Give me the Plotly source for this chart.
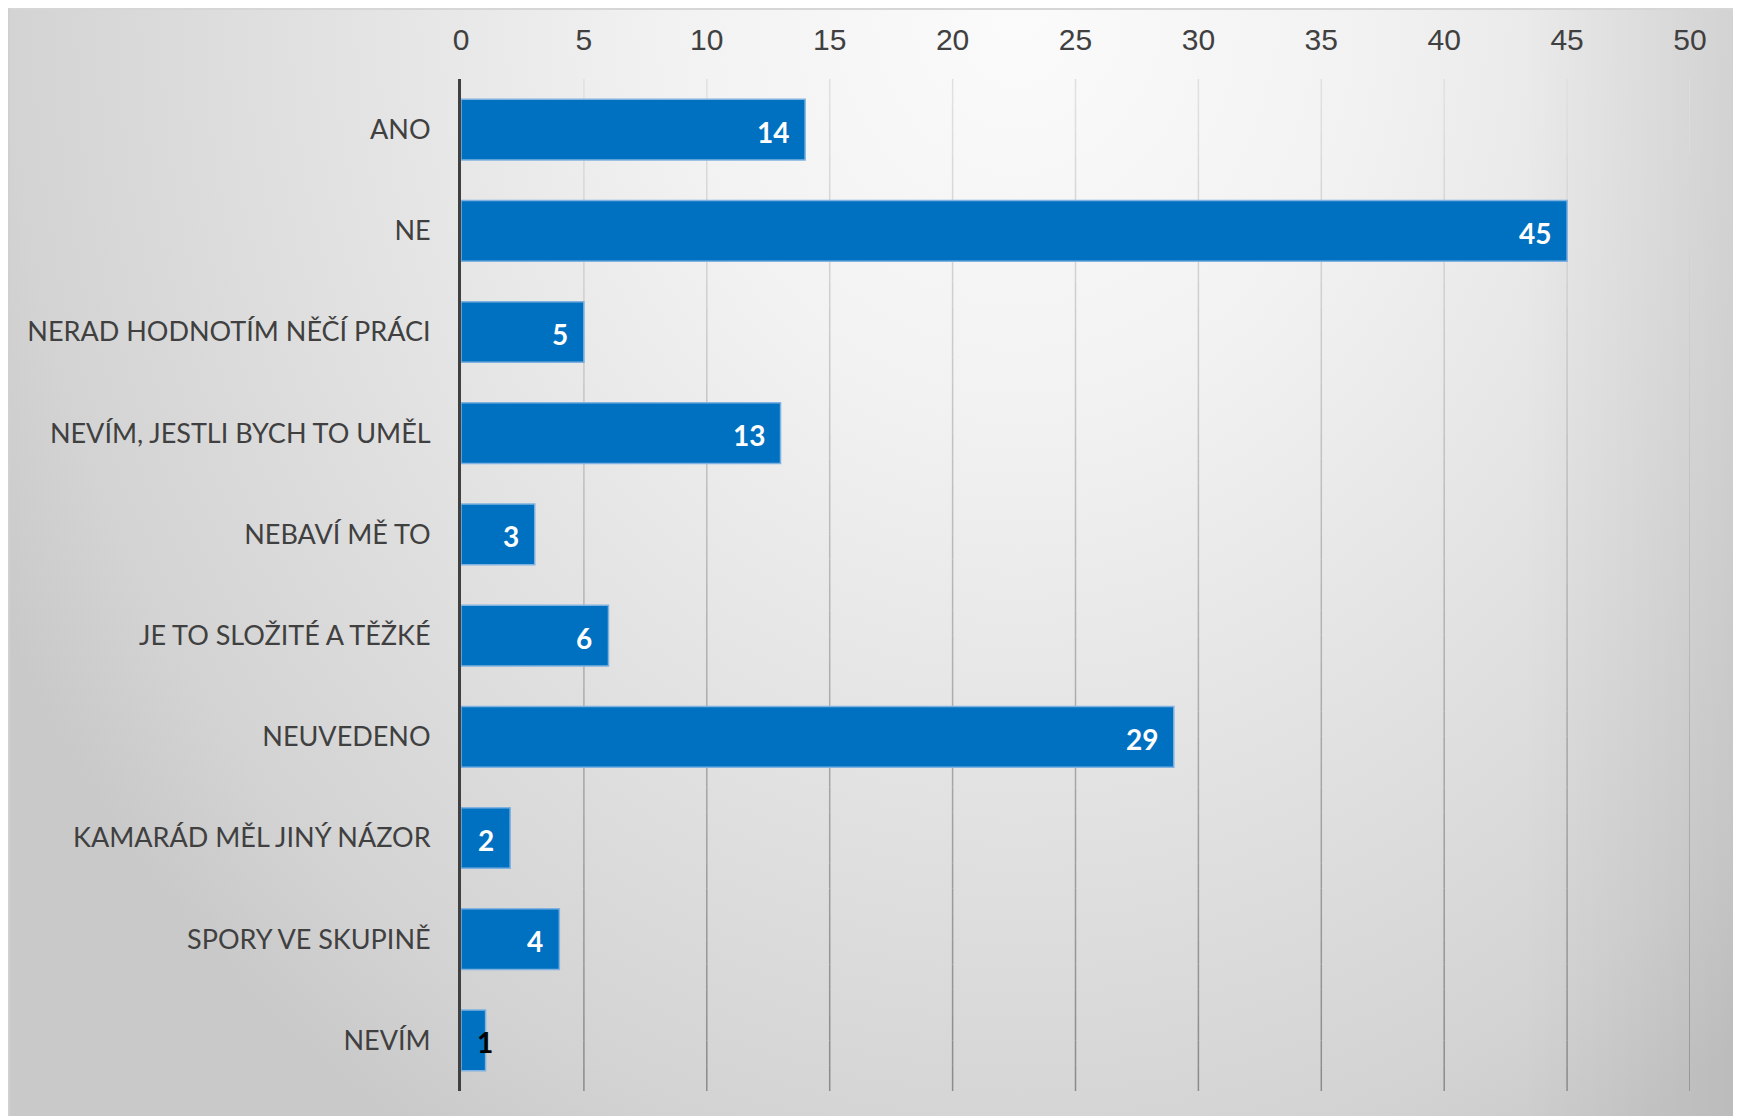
import base64
import plotly.graph_objects as go

categories = [
    "ANO",
    "NE",
    "NERAD HODNOTÍM NĚČÍ PRÁCI",
    "NEVÍM, JESTLI BYCH TO UMĚL",
    "NEBAVÍ MĚ TO",
    "JE TO SLOŽITÉ A TĚŽKÉ",
    "NEUVEDENO",
    "KAMARÁD MĚL JINÝ NÁZOR",
    "SPORY VE SKUPINĚ",
    "NEVÍM",
]
values = [14, 45, 5, 13, 3, 6, 29, 2, 4, 1]
tick_values = [0, 5, 10, 15, 20, 25, 30, 35, 40, 45, 50]

FIG_W, FIG_H = 1741, 1116
ML, MR, MT, MB = 453, 59, 71, 33
PW = FIG_W - ML - MR
PH = FIG_H - MT - MB

# background gradient (svg data uri) covering the whole figure
BW, BH = FIG_W, FIG_H
svg = f'''<svg xmlns="http://www.w3.org/2000/svg" width="{BW}" height="{BH}" viewBox="0 0 {BW} {BH}" preserveAspectRatio="none">
<defs>
<radialGradient id="g" gradientUnits="userSpaceOnUse" cx="1010" cy="0" r="1150" gradientTransform="translate(1010 0) scale(1 1.15) translate(-1010 0)">
<stop offset="0" stop-color="#fbfbfb"/>
<stop offset="0.3" stop-color="#f2f2f2"/>
<stop offset="0.6" stop-color="#e2e2e2"/>
<stop offset="0.88" stop-color="#d3d3d3"/>
<stop offset="1" stop-color="#c9c9c9"/>
</radialGradient>
<linearGradient id="r" x1="0" y1="0" x2="1" y2="0">
<stop offset="0.87" stop-color="#000" stop-opacity="0"/>
<stop offset="1" stop-color="#000" stop-opacity="0.07"/>
</linearGradient>
</defs>
<rect x="0" y="0" width="{BW}" height="{BH}" fill="url(#g)"/>
<rect x="0" y="0" width="{BW}" height="{BH}" fill="url(#r)"/>
<line x1="0" y1="1" x2="{BW}" y2="1" stroke="#d6d6d6" stroke-width="2"/>
<line x1="1" y1="0" x2="1" y2="{BH}" stroke="#d0d0d0" stroke-width="2"/>
</svg>'''
svg_uri = "data:image/svg+xml;base64," + base64.b64encode(svg.encode()).decode()

fig = go.Figure()
fig.add_trace(go.Bar(
    y=categories,
    x=values,
    orientation="h",
    marker=dict(color="#0070C0", line=dict(color="#7fb2e0", width=1.5)),
    hoverinfo="skip",
))

# value labels
for c, v in zip(categories, values):
    small = v < 2
    fig.add_annotation(
        x=v, y=c, xref="x", yref="y",
        text=str(v), showarrow=False,
        xanchor="center" if small else "right",
        xshift=-1 if small else -14,
        yshift=-2,
        font=dict(family="Lato", size=28, color="#000000" if small else "#ffffff", weight="bold"),
    )

# gradient gridlines
N = 40
top_c, bot_c = (225, 225, 225), (138, 138, 138)
shapes = []
for t in tick_values[1:]:
    for i in range(N):
        f = (i + 0.5) / N
        col = tuple(round(top_c[k] + (bot_c[k] - top_c[k]) * f) for k in range(3))
        shapes.append(dict(
            type="line", xref="x", yref="paper",
            x0=t, x1=t, y0=1 - i / N, y1=1 - (i + 1) / N,
            line=dict(color=f"rgb{col}", width=1.5), layer="below",
        ))

fig.update_layout(
    width=FIG_W, height=FIG_H,
    margin=dict(l=ML, r=MR, t=MT, b=MB, pad=0),
    paper_bgcolor="#ffffff",
    plot_bgcolor="rgba(0,0,0,0)",
    showlegend=False,
    bargap=0.4,
    shapes=shapes,
    images=[dict(
        source=svg_uri, xref="paper", yref="paper",
        x=-ML / PW, y=(FIG_H - MB) / PH,
        sizex=BW / PW, sizey=BH / PH,
        xanchor="left", yanchor="top", sizing="stretch", layer="below",
    )],
    xaxis=dict(
        side="top", range=[0, 50], tickvals=tick_values,
        showgrid=False, zeroline=False, showline=False,
        ticks="", ticklabelstandoff=22,
        tickfont=dict(family="Liberation Sans, Arial", size=30, color="#404040"),
        fixedrange=True,
    ),
    yaxis=dict(
        categoryorder="array", categoryarray=categories, autorange="reversed",
        showgrid=False, zeroline=False,
        showline=True, linecolor="#404040", linewidth=3,
        ticks="", ticklabelstandoff=22,
        tickfont=dict(family="Lato", size=27, color="#404040"),
        fixedrange=True,
    ),
)

fig.write_html("out.html")
